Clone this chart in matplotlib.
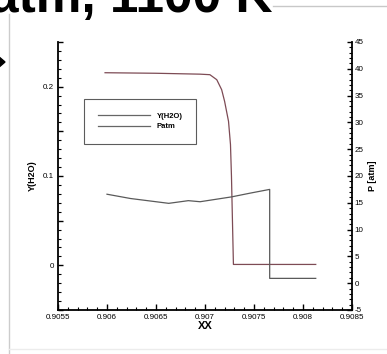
import matplotlib.pyplot as plt
import numpy as np
from matplotlib.ticker import MultipleLocator, FuncFormatter
from matplotlib.lines import Line2D
from matplotlib.patches import Polygon

plt.rcParams['font.family'] = ['Liberation Sans', 'DejaVu Sans']

# mass fraction of water along the line
xx_h2o = [0.90598, 0.90650, 0.90695, 0.90705, 0.90712, 0.90717, 0.90720,
          0.90724, 0.90726, 0.90727, 0.90729, 0.90813]
y_h2o = [0.2156, 0.2150, 0.2140, 0.2134, 0.2078, 0.1966, 0.1836,
         0.1612, 0.1352, 0.0998, 0.0010, 0.0010]

# pressure along the line [atm]
xx_p = [0.90600, 0.90624, 0.90663, 0.90683, 0.90695, 0.90727, 0.90746,
        0.90766, 0.90766, 0.90813]
p_atm = [16.6, 15.8, 14.9, 15.4, 15.2, 16.1, 16.8, 17.5, 0.9, 0.9]

c_h2o = '#7d4b55'
c_p = '#5a5a5a'

fig = plt.figure(figsize=(3.87, 3.54), dpi=100)
W, H = 387.0, 354.0
ax = fig.add_axes([58 / W, 1 - 310 / H, 294 / W, 268 / H])
ax2 = ax.twinx()

ax.plot(xx_h2o, y_h2o, color=c_h2o, lw=0.9)
ax2.plot(xx_p, p_atm, color=c_p, lw=0.9)

ax.set_xlim(0.9055, 0.9085)
ax.set_ylim(-0.05, 0.25)
ax2.set_ylim(-5, 45)

# axes in the tecplot style: inward ticks, no top frame
for a in (ax, ax2):
    a.spines['top'].set_visible(False)
ax.spines['right'].set_visible(False)
ax2.spines['left'].set_visible(False)
ax2.spines['bottom'].set_visible(False)
for s in ('left', 'bottom'):
    ax.spines[s].set_linewidth(1.3)
ax2.spines['right'].set_linewidth(1.3)

ax.xaxis.set_major_locator(MultipleLocator(0.0005))
ax.xaxis.set_minor_locator(MultipleLocator(0.0001))
ax.xaxis.set_major_formatter(FuncFormatter(lambda v, p: ('%.4f' % v).rstrip('0')))
ax.yaxis.set_major_locator(MultipleLocator(0.05))
ax.yaxis.set_minor_locator(MultipleLocator(0.01))


def yfmt(v, p):
    k = int(round(v * 100))
    if k % 10:
        return ''
    return '0' if k == 0 else '%.1f' % v


ax.yaxis.set_major_formatter(FuncFormatter(yfmt))
ax2.yaxis.set_major_locator(MultipleLocator(5))
ax2.yaxis.set_minor_locator(MultipleLocator(1))
ax2.yaxis.set_major_formatter(FuncFormatter(lambda v, p: '%d' % v))

ax.tick_params(axis='x', which='major', direction='in', length=4, width=1,
               labelsize=5.8, pad=3, top=False)
ax.tick_params(axis='x', which='minor', direction='in', length=2, width=0.8,
               top=False)
ax.tick_params(axis='y', which='major', direction='in', length=3.5, width=1,
               labelsize=5.8, pad=3, right=False)
ax.tick_params(axis='y', which='minor', direction='in', length=2, width=0.8,
               right=False)
ax2.tick_params(axis='y', which='major', direction='in', length=3.5, width=1,
                labelsize=5.8, pad=2)
ax2.tick_params(axis='y', which='minor', direction='in', length=2, width=0.8)

ax.set_xlabel('XX', fontsize=8, fontweight='bold', labelpad=0)
ax.set_ylabel('Y(H2O)', fontsize=6.5, fontweight='bold', labelpad=4)
ax2.set_ylabel('P [atm]', fontsize=6.5, fontweight='bold', labelpad=3)

handles = [Line2D([], [], color='#666666', lw=0.9),
           Line2D([], [], color='#666666', lw=0.9)]
leg = fig.legend(handles, ['Y(H2O)', 'Patm'], loc='upper left',
                 bbox_to_anchor=(84 / W, 1 - 99 / H),
                 prop={'weight': 'bold', 'size': 5.5}, frameon=True,
                 fancybox=False, edgecolor='#333333', borderpad=1.8,
                 labelspacing=0.4, handlelength=6.8, handletextpad=0.9,
                 borderaxespad=0)
leg.get_frame().set_linewidth(0.8)

# slide decorations around the plot
fig.text(-10 / W, 1 - 12 / H, 'atm, 1100 K', fontsize=37, fontweight='bold',
         ha='left', va='baseline')
fig.add_artist(Line2D([273 / W, 1], [1 - 6 / H, 1 - 6 / H], color='#c8c8c8',
                      lw=1, transform=fig.transFigure))
fig.add_artist(Line2D([9 / W, 9 / W], [0, 1 - 14 / H], color='#cccccc',
                      lw=1, transform=fig.transFigure))
fig.add_artist(Line2D([9 / W, 1], [1 - 349 / H, 1 - 349 / H], color='#ececec',
                      lw=1, transform=fig.transFigure))
fig.add_artist(Polygon([[-2 / W, 1 - 56 / H], [5 / W, 1 - 62 / H],
                        [-2 / W, 1 - 68 / H]], closed=True, color='black',
                       transform=fig.transFigure))

fig.savefig('out.png', dpi=100)
